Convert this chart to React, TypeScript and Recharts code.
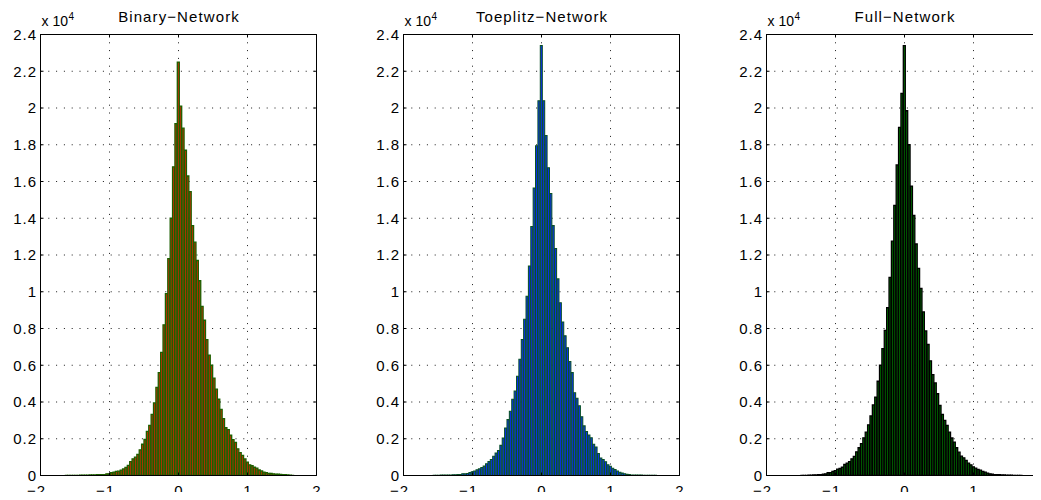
import { BarChart, Bar, XAxis, YAxis, CartesianGrid, ReferenceArea } from "recharts"

// histogram bin centres (same 101 bins for all three networks)
const binCenters = [
  -1.725, -1.6905, -1.656, -1.6215, -1.587, -1.5525, -1.518, -1.4835, -1.449, -1.4145,
  -1.38, -1.3455, -1.311, -1.2765, -1.242, -1.2075, -1.173, -1.1385, -1.104, -1.0695,
  -1.035, -1.0005, -0.966, -0.9315, -0.897, -0.8625, -0.828, -0.7935, -0.759, -0.7245,
  -0.69, -0.6555, -0.621, -0.5865, -0.552, -0.5175, -0.483, -0.4485, -0.414, -0.3795,
  -0.345, -0.3105, -0.276, -0.2415, -0.207, -0.1725, -0.138, -0.1035, -0.069, -0.0345,
  0,
  0.0345, 0.069, 0.1035, 0.138, 0.1725, 0.207, 0.2415, 0.276, 0.3105, 0.345,
  0.3795, 0.414, 0.4485, 0.483, 0.5175, 0.552, 0.5865, 0.621, 0.6555, 0.69,
  0.7245, 0.759, 0.7935, 0.828, 0.8625, 0.897, 0.9315, 0.966, 1.0005, 1.035,
  1.0695, 1.104, 1.1385, 1.173, 1.2075, 1.242, 1.2765, 1.311, 1.3455, 1.38,
  1.4145, 1.449, 1.4835, 1.518, 1.5525, 1.587, 1.6215, 1.656, 1.6905, 1.725,
]

const binaryCounts = [
  0, 0, 0, 10, 10, 10, 10, 10, 10, 20,
  20, 20, 20, 30, 30, 30, 40, 40, 50, 50,
  90, 90, 150, 180, 220, 240, 290, 360, 440, 550,
  760, 910, 1000, 1150, 1400, 1700, 1960, 2400, 2730, 3330,
  3950, 4800, 5600, 6700, 8200, 9900, 11800, 14000, 16800, 19150,
  22500,
  20100, 18900, 17700, 16300, 15450, 13600, 12700, 11700, 10600, 9200,
  8450, 7400, 6550, 6000, 5300, 4700, 4150, 3600, 3100, 2600,
  2500, 2200, 1950, 1800, 1450, 1250, 1100, 900, 730, 580,
  530, 450, 400, 300, 250, 180, 150, 120, 110, 90,
  80, 70, 60, 50, 40, 30, 20, 10, 0, 0,
]

const toeplitzCounts = [
  0, 0, 0, 0, 0, 10, 10, 10, 20, 20,
  20, 30, 30, 40, 40, 50, 50, 90, 90, 110,
  160, 200, 240, 310, 360, 440, 510, 640, 760, 870,
  1050, 1220, 1360, 1640, 2040, 2580, 3040, 3500, 4150, 4600,
  5400, 6330, 7400, 8500, 9750, 11400, 13550, 15650, 17950, 20400,
  23400,
  20400, 18500, 16750, 15350, 13600, 12350, 10700, 9400, 8350, 7600,
  6950, 6200, 5600, 4500, 4200, 3800, 3200, 2700, 2400, 2200,
  2050, 1700, 1550, 1200, 950, 870, 750, 580, 500, 400,
  330, 240, 180, 130, 90, 60, 50, 30, 30, 20,
  20, 20, 10, 10, 10, 10, 10, 10, 0, 0,
]

const fullCounts = [
  0, 0, 0, 0, 0, 0, 0, 10, 10, 10,
  20, 20, 30, 30, 40, 50, 70, 90, 150, 160,
  220, 270, 350, 380, 450, 600, 670, 760, 910, 1040,
  1290, 1510, 1730, 2050, 2360, 2760, 3240, 3840, 4270, 5130,
  6000, 6900, 7900, 9130, 10780, 12750, 14700, 16900, 18950, 20800,
  23400,
  19850, 18000, 15750, 14150, 12600, 11270, 10180, 8900, 7870, 7130,
  6240, 5490, 5040, 4450, 3820, 3330, 3000, 2730, 2360, 2040,
  1820, 1510, 1270, 1050, 960, 820, 670, 580, 470, 400,
  330, 290, 220, 180, 130, 90, 70, 40, 40, 40,
  30, 30, 20, 20, 20, 10, 10, 10, 10, 0,
]

const xTicks = [-2, -1, 0, 1, 2]
const yTicks = [0, 2000, 4000, 6000, 8000, 10000, 12000, 14000, 16000, 18000, 20000, 22000, 24000]

const FONT = "'Liberation Sans', Arial, Helvetica, sans-serif"
const CHART_W = 337
const Y_AXIS_W = 40.5
const PLOT_TOP = 34.5
const PLOT_W = 276
const PLOT_H = 441
const X_AXIS_H = 24.5
const X_MARGIN = 20 // label baseline below the bottom axis
const Y_MARGIN = 3.5 // gap between y labels and left axis
const TICK = 3 // inward tick length, MATLAB style

function XTick(props: any) {
  const { x, y, payload } = props
  const v = payload.value
  const label = v < 0 ? `\u2212${Math.abs(v)}` : `${v}`
  const axisY = y - X_MARGIN
  return (
    <g>
      <line x1={x} x2={x} y1={axisY} y2={axisY - TICK} stroke="#000" />
      <line x1={x} x2={x} y1={PLOT_TOP} y2={PLOT_TOP + TICK} stroke="#000" />
      <text x={x} y={y} dx={v < 0 ? -4 : 0.5} textAnchor="middle" fontSize={15} fontFamily={FONT} letterSpacing={1} fill="#000">
        {label}
      </text>
    </g>
  )
}

function YTick(props: any) {
  const { x, y, payload } = props
  const axisX = x + Y_MARGIN
  return (
    <g>
      <line x1={axisX} x2={axisX + TICK} y1={y} y2={y} stroke="#000" />
      <line x1={axisX + PLOT_W} x2={axisX + PLOT_W - TICK} y1={y} y2={y} stroke="#000" />
      <text x={x} y={y} dy="0.355em" textAnchor="end" fontSize={15} fontFamily={FONT} letterSpacing={1} fill="#000">
        {payload.value / 10000}
      </text>
    </g>
  )
}

interface HistogramProps {
  title: string
  counts: number[]
  fill: string
  edge: string
  edgeWidth: number
  left: number
}

function Histogram({ title, counts, fill, edge, edgeWidth, left }: HistogramProps) {
  const data = binCenters.map((x, i) => ({ x, count: counts[i] }))
  return (
    <div style={{ position: "absolute", left, top: 0, width: CHART_W, height: 500 }}>
      <BarChart
        width={CHART_W}
        height={500}
        data={data}
        margin={{
          top: PLOT_TOP,
          right: CHART_W - Y_AXIS_W - PLOT_W,
          bottom: 500 - PLOT_TOP - PLOT_H - X_AXIS_H,
          left: 0,
        }}
        barCategoryGap={0}
        barGap={0}
      >
        <CartesianGrid stroke="#1a1a1a" strokeDasharray="1 6.8" />
        <Bar dataKey="count" fill={fill} stroke={edge} strokeWidth={edgeWidth} isAnimationActive={false} />
        <XAxis
          type="number"
          dataKey="x"
          domain={[-2, 2]}
          ticks={xTicks}
          interval={0}
          height={X_AXIS_H}
          tickSize={0}
          tickMargin={X_MARGIN}
          tick={<XTick />}
          tickLine={false}
          axisLine={{ stroke: "#000" }}
          allowDataOverflow
        />
        <YAxis
          type="number"
          domain={[0, 24000]}
          ticks={yTicks}
          interval={0}
          width={Y_AXIS_W}
          tickSize={0}
          tickMargin={Y_MARGIN}
          tick={<YTick />}
          tickLine={false}
          axisLine={{ stroke: "#000" }}
          allowDataOverflow
        />
        <ReferenceArea
          x1={-2}
          x2={2}
          y1={0}
          y2={24000}
          fill="none"
          fillOpacity={0}
          stroke="#000"
          strokeWidth={1}
          strokeOpacity={1}
          ifOverflow="visible"
        />
      </BarChart>
      <svg width={CHART_W} height={40} style={{ position: "absolute", left: 0, top: 0 }}>
        <text x={179} y={21.5} textAnchor="middle" fontSize={15} fontFamily={FONT} letterSpacing={1.1} fill="#000">
          {title}
        </text>
        <text x={41.5} y={26} fontSize={14} fontFamily={FONT} fill="#000">
          x 10
        </text>
        <text x={68.5} y={19.5} fontSize={10} fontFamily={FONT} fill="#000">
          4
        </text>
      </svg>
    </div>
  )
}

export default function App() {
  return (
    <div
      style={{
        position: "relative",
        width: 1041,
        height: 500,
        margin: -8,
        overflow: "hidden",
        background: "#fff",
      }}
    >
      <Histogram title="Binary−Network" counts={binaryCounts} fill="#e02400" edge="#1c6000" edgeWidth={1.3} left={0} />
      <Histogram title="Toeplitz−Network" counts={toeplitzCounts} fill="#0a2ef5" edge="#0a5226" edgeWidth={1.05} left={363} />
      <Histogram title="Full−Network" counts={fullCounts} fill="#007a00" edge="#000" edgeWidth={1.3} left={726} />
    </div>
  )
}
